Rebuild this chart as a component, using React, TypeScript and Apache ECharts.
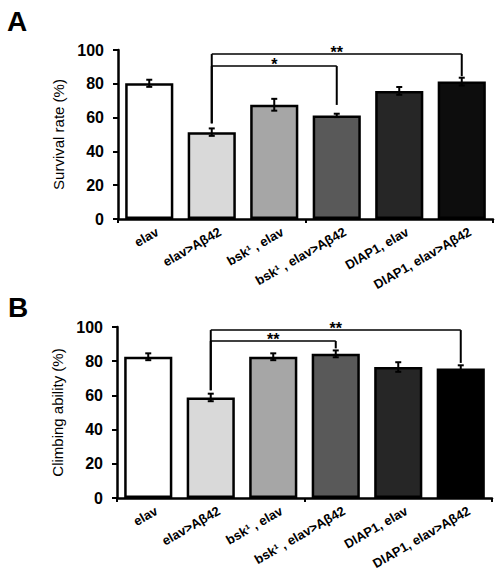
import React, { useEffect, useRef } from "react";
import * as echarts from "echarts";

const categories = [
  "elav",
  "elav>Aβ42",
  "bsk¹ , elav",
  "bsk¹ , elav>Aβ42",
  "DIAP1, elav",
  "DIAP1, elav>Aβ42",
];
const survivalValues = [80.3, 51.4, 67.6, 61.3, 75.8, 81.3];
const survivalErrors = [2.1, 2.2, 3.5, 1.0, 2.3, 2.3];
const climbingValues = [82.6, 58.8, 82.6, 84.3, 76.6, 75.8];
const climbingErrors = [2.0, 2.2, 2.0, 2.0, 2.8, 1.8];
const survivalColors = ["#ffffff", "#d9d9d9", "#a6a6a6", "#595959", "#262626", "#0d0d0d"];
const climbingColors = ["#ffffff", "#d9d9d9", "#a6a6a6", "#595959", "#262626", "#000000"];
const yTicks = { min: 0, max: 100, interval: 20 };
// brackets: [fromIndex, toIndex, topLevel, leftBottom, rightBottom]
const survivalBrackets = [
  [1, 3, 90.5, 56.6, 67.5],
  [1, 5, 97.6, 56.6, 84.5],
];
const survivalBracketLabels = ["*", "**"];
const climbingBrackets = [
  [1, 3, 91.8, 63, 87.5],
  [1, 5, 98.2, 63, 79],
];
const climbingBracketLabels = ["**", "**"];

const FONT = "'Liberation Sans', Arial, sans-serif";

function makeGridAxes(gridIndex: number, yName: string) {
  const xAxis = {
    type: "category",
    gridIndex,
    data: categories,
    axisLine: { lineStyle: { color: "#000", width: 2.5 } },
    axisTick: { show: true, length: 4, lineStyle: { color: "#000", width: 2 } },
    axisLabel: { show: false },
  };
  const yAxis = {
    type: "value",
    gridIndex,
    min: yTicks.min,
    max: yTicks.max,
    interval: yTicks.interval,
    name: yName,
    nameLocation: "middle",
    nameGap: 47,
    nameTextStyle: { color: "#000", fontSize: 15, fontFamily: FONT },
    splitLine: { show: false },
    axisLine: { show: true, lineStyle: { color: "#000", width: 2.5 } },
    axisTick: { show: true, length: 5, lineStyle: { color: "#000", width: 2 } },
    axisLabel: { color: "#000", fontWeight: "bold", fontSize: 16, margin: 14, fontFamily: FONT },
  };
  return { xAxis, yAxis };
}

function barSeries(idx: number, values: number[], colors: string[]) {
  return {
    type: "bar",
    xAxisIndex: idx,
    yAxisIndex: idx,
    barWidth: "77%",
    data: values.map((v, i) => ({
      value: v,
      itemStyle: { color: colors[i], borderColor: "#000", borderWidth: 2.5 },
    })),
    z: 2,
  };
}

function labelSeries(idx: number, deg: number) {
  return {
    type: "custom",
    xAxisIndex: idx,
    yAxisIndex: idx,
    clip: false,
    z: 6,
    data: categories.map((_, i) => [i, 0]),
    renderItem: (params: any, api: any) => {
      const p = api.coord([api.value(0), 0]);
      return {
        type: "text",
        x: p[0] + 5,
        y: p[1] + 6,
        rotation: (deg * Math.PI) / 180,
        style: {
          text: categories[params.dataIndex],
          fill: "#000",
          font: `bold 13px ${FONT}`,
          align: "right",
          verticalAlign: "top",
        },
      };
    },
  };
}

function errorSeries(idx: number, values: number[], errors: number[]) {
  return {
    type: "custom",
    xAxisIndex: idx,
    yAxisIndex: idx,
    z: 5,
    data: values.map((v, i) => [i, v - errors[i], v + errors[i]]),
    renderItem: (params: any, api: any) => {
      const x = api.value(0);
      const lo = api.coord([x, api.value(1)]);
      const hi = api.coord([x, api.value(2)]);
      const w = 3;
      const style = { stroke: "#000", lineWidth: 2 };
      return {
        type: "group",
        children: [
          { type: "line", shape: { x1: lo[0], y1: lo[1], x2: hi[0], y2: hi[1] }, style },
          { type: "line", shape: { x1: lo[0] - w, y1: lo[1], x2: lo[0] + w, y2: lo[1] }, style },
          { type: "line", shape: { x1: hi[0] - w, y1: hi[1], x2: hi[0] + w, y2: hi[1] }, style },
        ],
      };
    },
  };
}

function bracketSeries(idx: number, brackets: number[][], labels: string[]) {
  return {
    type: "custom",
    xAxisIndex: idx,
    yAxisIndex: idx,
    z: 6,
    data: brackets,
    renderItem: (params: any, api: any) => {
      const from = api.value(0);
      const to = api.value(1);
      const top = api.value(2);
      const lb = api.coord([from, api.value(3)]);
      const lt = api.coord([from, top]);
      const rt = api.coord([to, top]);
      const rb = api.coord([to, api.value(4)]);
      return {
        type: "group",
        children: [
          { type: "line", shape: { x1: lb[0], y1: lb[1], x2: lt[0], y2: lt[1] }, style: { stroke: "#000", lineWidth: 2 } },
          { type: "line", shape: { x1: lt[0], y1: lt[1], x2: rt[0], y2: rt[1] }, style: { stroke: "#000", lineWidth: 1.5 } },
          { type: "line", shape: { x1: rt[0], y1: rt[1], x2: rb[0], y2: rb[1] }, style: { stroke: "#000", lineWidth: 2 } },
          {
            type: "text",
            x: (lt[0] + rt[0]) / 2,
            y: lt[1] + 6,
            style: {
              text: labels[params.dataIndex],
              fill: "#000",
              font: `bold 16px ${FONT}`,
              align: "center",
              verticalAlign: "bottom",
            },
          },
        ],
      };
    },
  };
}

export default function App() {
  const ref = useRef<HTMLDivElement>(null);
  useEffect(() => {
    document.body.style.margin = "0";
    if (!ref.current) return;
    const chart = echarts.init(ref.current, null, { renderer: "svg" });
    const a = makeGridAxes(0, "Survival rate (%)");
    const b = makeGridAxes(1, "Climbing ability (%)");
    chart.setOption({
      animation: false,
      backgroundColor: "#ffffff",
      grid: [
        { left: 118, top: 50, width: 375, height: 169, outerBoundsMode: "none", containLabel: false },
        { left: 117, top: 327, width: 375, height: 171, outerBoundsMode: "none", containLabel: false },
      ],
      xAxis: [a.xAxis, b.xAxis],
      yAxis: [a.yAxis, b.yAxis],
      graphic: [
        { type: "text", left: 7, top: 7, style: { text: "A", font: `bold 28px ${FONT}`, fill: "#000" } },
        { type: "text", left: 8, top: 293, style: { text: "B", font: `bold 28px ${FONT}`, fill: "#000" } },
      ],
      series: [
        barSeries(0, survivalValues, survivalColors),
        errorSeries(0, survivalValues, survivalErrors),
        bracketSeries(0, survivalBrackets, survivalBracketLabels),
        labelSeries(0, 30),
        barSeries(1, climbingValues, climbingColors),
        errorSeries(1, climbingValues, climbingErrors),
        bracketSeries(1, climbingBrackets, climbingBracketLabels),
        labelSeries(1, 30),
      ],
    });
    return () => chart.dispose();
  }, []);
  return <div ref={ref} style={{ width: 504, height: 574 }} />;
}
